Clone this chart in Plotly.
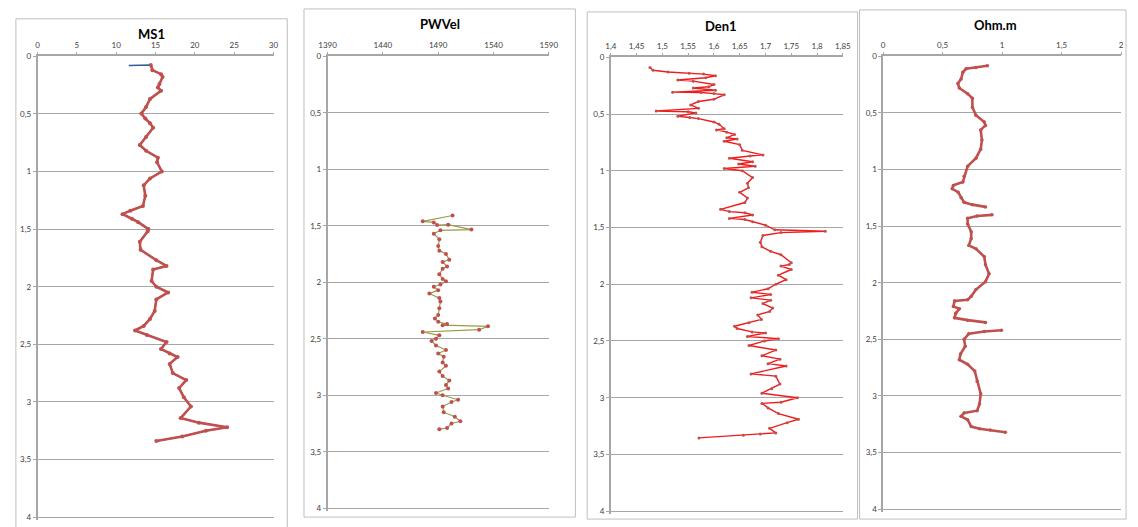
import plotly.graph_objects as go

W, H = 1138, 527

# ---- data: depth (m) and log values ----
ms1_depth = [0.080, 0.075, 0.120, 0.155, 0.18, 0.24, 0.27, 0.30, 0.37, 0.44, 0.497, 0.54, 0.58, 0.62,
             0.70, 0.77, 0.82, 0.88, 0.92, 1.00, 1.06, 1.12, 1.21, 1.30, 1.34, 1.37, 1.41, 1.44,
             1.50, 1.52, 1.61, 1.68, 1.77, 1.82, 1.85, 1.95, 2.00, 2.05, 2.11, 2.21, 2.28, 2.34,
             2.38, 2.42, 2.48, 2.54, 2.58, 2.61, 2.67, 2.75, 2.81, 2.88, 2.96, 3.04, 3.14, 3.18,
             3.22, 3.25, 3.30, 3.34]
ms1_val = [11.6, 14.4, 14.6, 15.7, 15.9, 15.5, 15.3, 15.7, 14.3, 13.8, 13.2, 13.7, 14.3, 14.7,
           13.8, 13.0, 13.8, 15.3, 15.2, 15.8, 14.3, 13.5, 13.7, 13.4, 11.8, 10.8, 12.0, 12.8,
           14.1, 14.0, 13.0, 13.1, 15.1, 16.4, 14.7, 14.5, 15.1, 16.6, 15.1, 14.9, 14.3, 13.5,
           12.4, 13.9, 16.4, 15.7, 16.8, 17.8, 16.8, 17.2, 18.9, 18.0, 18.6, 19.5, 18.2, 20.5,
           24.1, 21.4, 18.4, 15.1]

pw_depth = [1.409, 1.461, 1.470, 1.494, 1.490, 1.534, 1.540, 1.57, 1.62, 1.68, 1.72, 1.75, 1.80,
            1.82, 1.86, 1.88, 1.93, 1.97, 1.99, 2.02, 2.04, 2.07, 2.10, 2.14, 2.17, 2.23, 2.29,
            2.32, 2.35, 2.37, 2.38, 2.39, 2.42, 2.44, 2.47, 2.50, 2.52, 2.56, 2.60, 2.63, 2.66,
            2.71, 2.74, 2.79, 2.83, 2.87, 2.91, 2.94, 2.98, 3.00, 3.04, 3.06, 3.10, 3.15, 3.19,
            3.23, 3.25, 3.29, 3.30]
pw_val = [1503, 1476, 1486, 1489, 1499, 1520, 1492, 1486, 1491, 1490, 1491, 1497, 1500,
          1494, 1498, 1494, 1491, 1494, 1497, 1492, 1486, 1490, 1482, 1491, 1492, 1491, 1490,
          1487, 1490, 1498, 1494, 1535, 1527, 1476, 1491, 1488, 1484, 1488, 1497, 1490, 1495,
          1494, 1497, 1491, 1494, 1500, 1497, 1499, 1488, 1494, 1508, 1502, 1494, 1495, 1505,
          1510, 1502, 1498, 1491]

den_depth = [0.09, 0.114, 0.13, 0.14, 0.148, 0.163, 0.18, 0.20, 0.21, 0.24, 0.26, 0.27, 0.29,
             0.307, 0.31, 0.32, 0.33, 0.37, 0.39, 0.42, 0.45, 0.473, 0.48, 0.49, 0.52, 0.53,
             0.54, 0.57, 0.59, 0.63, 0.64, 0.66, 0.68, 0.71, 0.72, 0.74, 0.77, 0.82, 0.86, 0.87,
             0.89, 0.92, 0.94, 0.96, 0.98, 1.00, 1.06, 1.11, 1.15, 1.19, 1.24, 1.28, 1.34, 1.36,
             1.37, 1.39, 1.42, 1.43, 1.45, 1.48, 1.52, 1.533, 1.545, 1.57, 1.63, 1.67, 1.71, 1.74,
             1.81, 1.826, 1.84, 1.87, 1.92, 1.96, 2.00, 2.04, 2.07, 2.09, 2.12, 2.14, 2.17, 2.21,
             2.24, 2.27, 2.31, 2.34, 2.37, 2.39, 2.42, 2.43, 2.46, 2.48, 2.50, 2.54, 2.58, 2.63,
             2.66, 2.70, 2.72, 2.79, 2.81, 2.88, 2.92, 2.96, 3.00, 3.04, 3.05, 3.09, 3.14, 3.19,
             3.22, 3.27, 3.31, 3.32, 3.33, 3.354]
den_val = [1.476, 1.482, 1.511, 1.552, 1.580, 1.603, 1.584, 1.530, 1.560, 1.600, 1.590, 1.560,
           1.603, 1.520, 1.575, 1.600, 1.620, 1.600, 1.570, 1.555, 1.570, 1.488, 1.550, 1.565,
           1.530, 1.553, 1.570, 1.600, 1.610, 1.620, 1.605, 1.625, 1.640, 1.625, 1.645, 1.620,
           1.650, 1.655, 1.695, 1.670, 1.630, 1.675, 1.648, 1.680, 1.620, 1.655, 1.675, 1.665,
           1.667, 1.650, 1.665, 1.660, 1.613, 1.630, 1.660, 1.675, 1.630, 1.660, 1.675, 1.700,
           1.718, 1.816, 1.730, 1.695, 1.690, 1.693, 1.710, 1.730, 1.750, 1.746, 1.730, 1.750,
           1.725, 1.740, 1.720, 1.705, 1.674, 1.710, 1.672, 1.710, 1.695, 1.714, 1.708, 1.685,
           1.692, 1.668, 1.640, 1.645, 1.674, 1.700, 1.665, 1.725, 1.698, 1.668, 1.720, 1.693,
           1.728, 1.705, 1.740, 1.672, 1.720, 1.728, 1.712, 1.693, 1.762, 1.730, 1.693, 1.705,
           1.725, 1.764, 1.742, 1.708, 1.720, 1.690, 1.657, 1.571]

# None marks the two breaks in the resistivity log
ohm_depth = [0.084, 0.098, 0.11, 0.14, 0.20, 0.24, 0.28, 0.33, 0.37, 0.45, 0.52, 0.58, 0.61,
             0.65, 0.74, 0.82, 0.90, 0.97, 1.06, 1.11, 1.14, 1.17, 1.20, 1.25, 1.29, 1.31, 1.33,
             None,
             1.40, 1.41, 1.43, 1.48, 1.55, 1.61, 1.67, 1.70, 1.77, 1.84, 1.92, 1.99, 2.06, 2.12,
             2.15, 2.16, 2.21, 2.23, 2.27, 2.31, 2.33, 2.35,
             None,
             2.42, 2.43, 2.45, 2.50, 2.56, 2.63, 2.68, 2.72, 2.78, 2.87, 2.98, 3.07, 3.13, 3.15,
             3.18, 3.21, 3.27, 3.29, 3.30, 3.32]
ohm_val = [0.876, 0.78, 0.697, 0.67, 0.655, 0.628, 0.64, 0.71, 0.75, 0.75, 0.78, 0.85, 0.86,
           0.82, 0.83, 0.82, 0.78, 0.71, 0.68, 0.67, 0.59, 0.58, 0.63, 0.655, 0.68, 0.75, 0.86,
           None,
           0.915, 0.79, 0.71, 0.71, 0.74, 0.74, 0.72, 0.78, 0.85, 0.86, 0.89, 0.86, 0.78, 0.74,
           0.71, 0.60, 0.59, 0.64, 0.61, 0.60, 0.71, 0.86,
           None,
           0.994, 0.85, 0.72, 0.68, 0.69, 0.65, 0.64, 0.71, 0.77, 0.79, 0.82, 0.81, 0.79, 0.68,
           0.655, 0.71, 0.74, 0.81, 0.90, 1.027]

depth_ticks = [0, 0.5, 1, 1.5, 2, 2.5, 3, 3.5, 4]
depth_text = ["0", "0,5", "1", "1,5", "2", "2,5", "3", "3,5", "4"]

ms1_ticks = [0, 5, 10, 15, 20, 25, 30]
pw_ticks = [1390, 1440, 1490, 1540, 1590]
den_ticks = [1.4, 1.45, 1.5, 1.55, 1.6, 1.65, 1.7, 1.75, 1.8, 1.85]
den_text = ["1,4", "1,45", "1,5", "1,55", "1,6", "1,65", "1,7", "1,75", "1,8", "1,85"]
ohm_ticks = [0, 0.5, 1, 1.5, 2]
ohm_text = ["0", "0,5", "1", "1,5", "2"]

titles = ["MS1", "PWVel", "Den1", "Ohm.m"]

# ---- panel geometry (pixels) ----
# plot areas: (x0, x1, y of depth 0, y of depth 4)
areas = [(29, 269, 52, 519), (324, 549, 52, 510), (612, 848, 53, 513), (889, 1131, 52, 511)]
# frames around each chart: (x0, x1, ytop, ybottom)
frames = [(7, 283, 14, 560), (300, 576, 4, 519), (588, 863, 7, 521), (865, 1136, 5, 521)]
title_pos = [(145, 29), (438, 19), (724, 21), (1003, 20)]

DEPTH_MAX = 4.0
PAD = 0.025  # depth range runs slightly past 4 so the bottom gridline is drawn

FONT = "Lato, 'Liberation Sans', sans-serif"
AXIS = "#a6a6a6"
TICKC = "#404040"

fig = go.Figure()

# MS1: blue series with red marked series on top
fig.add_trace(go.Scatter(x=ms1_val, y=ms1_depth, mode="lines",
                         line=dict(color="#2f5d9e", width=1.5),
                         xaxis="x", yaxis="y", showlegend=False))
fig.add_trace(go.Scatter(x=ms1_val[1:], y=ms1_depth[1:], mode="lines+markers",
                         line=dict(color="#c0504d", width=2.6),
                         marker=dict(color="#c0504d", size=4),
                         xaxis="x", yaxis="y", showlegend=False))
# PWVel
fig.add_trace(go.Scatter(x=pw_val, y=pw_depth, mode="lines+markers",
                         line=dict(color="#9a9a48", width=1.2),
                         marker=dict(color="#c0504d", size=4),
                         xaxis="x2", yaxis="y2", showlegend=False))
# Den1
fig.add_trace(go.Scatter(x=den_val, y=den_depth, mode="lines+markers",
                         line=dict(color="#ee1c1c", width=1.4),
                         marker=dict(color="#c0504d", size=3),
                         xaxis="x3", yaxis="y3", showlegend=False))
# Ohm.m
fig.add_trace(go.Scatter(x=ohm_val, y=ohm_depth, mode="lines+markers",
                         line=dict(color="#c0504d", width=2.6),
                         marker=dict(color="#c0504d", size=3.5),
                         connectgaps=False,
                         xaxis="x4", yaxis="y4", showlegend=False))

x_specs = [
    dict(range=[0, 30], tickvals=ms1_ticks, ticktext=[str(v) for v in ms1_ticks]),
    dict(range=[1390, 1590 + 0.001], tickvals=pw_ticks, ticktext=[str(v) for v in pw_ticks]),
    dict(range=[1.4, 1.85 + 1e-6], tickvals=den_ticks, ticktext=den_text),
    dict(range=[0, 2], tickvals=ohm_ticks, ticktext=ohm_text),
]

layout = dict(width=W, height=H, autosize=False,
              margin=dict(l=0, r=0, t=0, b=0),
              paper_bgcolor="white", plot_bgcolor="white",
              showlegend=False, shapes=[], annotations=[])

for i, ((x0, x1, yt, yb), spec) in enumerate(zip(areas, x_specs)):
    n = "" if i == 0 else str(i + 1)
    scale = (yb - yt) / DEPTH_MAX
    yb_ext = yb + PAD * scale
    xd = [x0 / W, x1 / W]
    yd = [1 - yb_ext / H, 1 - yt / H]
    layout["xaxis" + n] = dict(domain=xd, anchor="y" + n, side="top",
                               range=spec["range"], tickmode="array",
                               tickvals=spec["tickvals"], ticktext=spec["ticktext"],
                               showgrid=False, zeroline=False,
                               showline=True, linecolor=AXIS, linewidth=1.5,
                               ticks="outside", ticklen=3, tickcolor=AXIS,
                               tickfont=dict(family=FONT, size=8, color=TICKC),
                               fixedrange=True)
    layout["yaxis" + n] = dict(domain=yd, anchor="x" + n, range=[DEPTH_MAX + PAD, 0],
                               tickmode="array", tickvals=depth_ticks, ticktext=depth_text,
                               showgrid=True, gridcolor=AXIS, gridwidth=1.2,
                               zeroline=False, showline=True, linecolor=AXIS, linewidth=1.5,
                               ticks="outside", ticklen=3, tickcolor=AXIS,
                               tickfont=dict(family=FONT, size=8, color=TICKC),
                               fixedrange=True)

for (fx0, fx1, fyt, fyb) in frames:
    layout["shapes"].append(dict(type="rect", xref="paper", yref="paper",
                                 x0=fx0 / W, x1=fx1 / W, y0=1 - fyb / H, y1=1 - fyt / H,
                                 line=dict(color="#bfbfbf", width=1), fillcolor="rgba(0,0,0,0)",
                                 layer="below"))

for t, (tx, ty) in zip(titles, title_pos):
    layout["annotations"].append(dict(text="<b>%s</b>" % t, xref="paper", yref="paper",
                                      x=tx / W, y=1 - ty / H, xanchor="center", yanchor="middle",
                                      showarrow=False,
                                      font=dict(family=FONT, size=13, color="#000000")))

fig.update_layout(**layout)
fig.write_html("out.html", config=dict(displayModeBar=False))
